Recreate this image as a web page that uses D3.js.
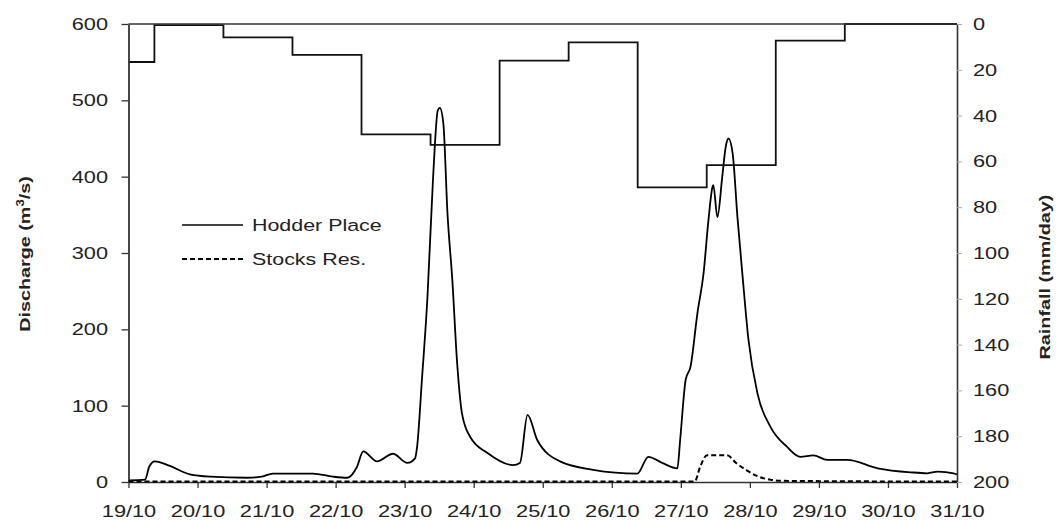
<!DOCTYPE html>
<html><head><meta charset="utf-8">
<script src="https://cdn.jsdelivr.net/npm/d3@7"></script>
<style>body{margin:0;background:#fff;} svg{display:block;font-family:"Liberation Sans",Arial,sans-serif;}</style>
</head><body>
<svg id="chart" width="1060" height="520"></svg>
<script>
// X tick labels (days of October)
const dayTicks = [19,20,21,22,23,24,25,26,27,28,29,30,31];
const dischargeTicks = [0,100,200,300,400,500,600];
const rainTicks = [0,20,40,60,80,100,120,140,160,180,200];

// Rainfall: daily totals (09:00 to 09:00), day of the start of the period
const rainDay = [18,19,20,21,22,23,24,25,26,27,28,29,30];
const rainMm  = [16.6,0.5,5.8,13.5,48.2,52.8,16,8,71.3,61.6,7.3,0,0];

// Hodder Place discharge (m3/s) : time in days (October) and values
const hodderT = [19.0,19.24,19.30,19.38,19.60,19.89,20.18,20.72,20.93,21.09,21.67,21.96,22.17,22.31,22.40,22.60,22.83,23.04,23.15,23.18,23.25,23.33,23.41,23.48,23.51,23.56,23.62,23.69,23.76,23.83,23.95,24.20,24.57,24.67,24.78,24.92,25.25,25.73,26.37,26.53,26.73,26.95,26.99,27.07,27.14,27.24,27.33,27.40,27.46,27.47,27.53,27.60,27.65,27.69,27.75,27.82,27.89,27.98,28.11,28.30,28.54,28.73,28.92,29.12,29.41,29.85,30.33,30.57,30.72,30.95,31.0];
const hodderQ = [2,3,20,27,21,10,7,5.6,7,11,11,7,5.6,20,40,27,37,25,31,46,134,242,396,487,490,470,352,265,156,90,59,38,22,25,88,55,27,16,11,33,25,18,55,134,151,221,274,343,387,389,347,400,439,450,431,347,274,186,116,72,46,33,35,29,29,18,12.7,11.4,13.5,11.4,10];

// Stocks Reservoir discharge
const stocksT = [19.0,27.2,27.28,27.38,27.67,27.8,27.96,28.1,28.3,28.5,31.0];
const stocksQ = [0.5,0.5,20,35,35,25,15,8,3,1.5,0.5];

const svg = d3.select("#chart");
const L = 128.5, R = 957, T = 24, B = 482;
const S = 1.28; // horizontal stretch of the text, as in the reference
const x = d3.scaleLinear().domain([19,31]).range([L,R]);
const yQ = d3.scaleLinear().domain([0,600]).range([B,T]);
const yR = d3.scaleLinear().domain([0,200]).range([T,B]);
const txt = "#222";
const FONT = "Liberation Sans, Arial, sans-serif";

// Hodder line
const hodder = hodderT.map((t,i)=>[t,hodderQ[i]]);
svg.append("path").datum(hodder)
  .attr("fill","none").attr("stroke","#000").attr("stroke-width",1.8)
  .attr("d", d3.line().x(d=>x(d[0])).y(d=>yQ(d[1])).curve(d3.curveMonotoneX));

// Rainfall step line
const rainPts = [];
rainDay.forEach((d,i)=>{
  const a = Math.max(19, d+0.375), b = Math.min(31, d+1.375);
  if (b > a) { rainPts.push([a, rainMm[i]]); rainPts.push([b, rainMm[i]]); }
});
svg.append("path").datum(rainPts)
  .attr("fill","none").attr("stroke","#111").attr("stroke-width",1.8)
  .attr("d", d3.line().x(d=>x(d[0])).y(d=>yR(d[1])));

// Frame top
svg.append("line").attr("x1",L).attr("x2",R).attr("y1",T).attr("y2",T)
  .attr("stroke","#333").attr("stroke-width",1.6);

// Axes
const gx = svg.append("g").attr("transform",`translate(0,${B})`)
  .call(d3.axisBottom(x).tickValues(dayTicks).tickFormat(d=>d+"/10").tickSize(6).tickSizeOuter(0));
gx.select(".domain").attr("stroke","#333").attr("stroke-width",1.6);
gx.selectAll(".tick line").attr("stroke","#333").attr("stroke-width",1.3);
gx.selectAll(".tick text").attr("fill",txt).attr("font-size",17).attr("font-family",FONT)
  .attr("y",29).attr("dy","0.35em").attr("transform",`scale(${S},1)`);

const gl = svg.append("g").attr("transform",`translate(${L},0)`)
  .call(d3.axisLeft(yQ).tickValues(dischargeTicks).tickSize(7).tickSizeOuter(0));
gl.select(".domain").attr("stroke","#333").attr("stroke-width",1.8);
gl.selectAll(".tick line").attr("stroke","#333").attr("stroke-width",1.3);
gl.selectAll(".tick text").attr("fill",txt).attr("font-size",17).attr("font-family",FONT)
  .attr("x",-20.5/S).attr("transform",`scale(${S},1)`);

const gr = svg.append("g").attr("transform",`translate(${R},0)`)
  .call(d3.axisRight(yR).tickValues(rainTicks).tickSize(5).tickSizeOuter(0));
gr.select(".domain").attr("stroke","#333").attr("stroke-width",1.6);
gr.selectAll(".tick line").attr("stroke","#aaa").attr("stroke-width",1);
gr.selectAll(".tick text").attr("fill",txt).attr("font-size",17).attr("font-family",FONT)
  .attr("x",16/S).attr("transform",`scale(${S},1)`);

// Stocks dashed line (on top of axis)
const stocks = stocksT.map((t,i)=>[t,stocksQ[i]]);
svg.append("path").datum(stocks)
  .attr("fill","none").attr("stroke","#000").attr("stroke-width",2)
  .attr("stroke-dasharray","5,3")
  .attr("d", d3.line().x(d=>x(d[0])).y(d=>yQ(d[1])).curve(d3.curveMonotoneX));

// Axis titles
const t1 = svg.append("text").attr("transform",`translate(30,254) rotate(-90) scale(1.32,1)`)
  .attr("text-anchor","middle").attr("font-size",15).attr("font-weight","bold").attr("fill",txt);
t1.append("tspan").text("Discharge (m");
t1.append("tspan").text("3").attr("font-size",10).attr("dy",-6);
t1.append("tspan").text("/s)").attr("dy",6);

svg.append("text").attr("transform",`translate(1050,277) rotate(-90) scale(1.32,1)`)
  .attr("text-anchor","middle").attr("font-size",15).attr("font-weight","bold").attr("fill",txt)
  .text("Rainfall (mm/day)");

// Legend
const legend = [{name:"Hodder Place", dash:null, y:225},{name:"Stocks Res.", dash:"5,3", y:259}];
legend.forEach(l=>{
  svg.append("line").attr("x1",182).attr("x2",243).attr("y1",l.y).attr("y2",l.y)
    .attr("stroke", l.dash ? "#000" : "#444").attr("stroke-width",2)
    .attr("stroke-dasharray", l.dash);
  svg.append("text").attr("transform",`translate(252,${l.y}) scale(1.26,1)`).attr("dy","0.35em")
    .attr("font-size",17).attr("fill",txt).text(l.name);
});
</script>
</body></html>
